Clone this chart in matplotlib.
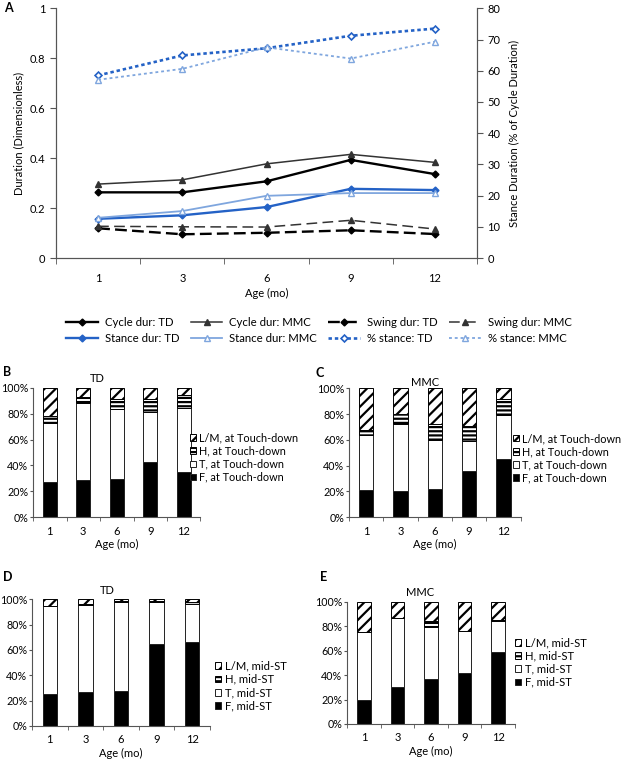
import matplotlib
matplotlib.use("Agg")
import matplotlib.pyplot as plt
import numpy as np
from matplotlib.patches import Patch
from matplotlib.ticker import FixedLocator

plt.rcParams['font.family'] = ['Lato', 'DejaVu Sans']
plt.rcParams['hatch.linewidth'] = 1.6
plt.rcParams['axes.edgecolor'] = '#555555'

ages = ['1', '3', '6', '9', '12']

# panel A: durations (dimensionless) and % stance
cycle_td = [0.263, 0.263, 0.307, 0.393, 0.336]
cycle_mmc = [0.296, 0.313, 0.377, 0.415, 0.383]
swing_td = [0.119, 0.095, 0.101, 0.111, 0.096]
swing_mmc = [0.127, 0.125, 0.124, 0.151, 0.116]
stance_td = [0.157, 0.171, 0.204, 0.277, 0.272]
stance_mmc = [0.161, 0.188, 0.249, 0.260, 0.260]
pct_stance_td = [58.5, 64.9, 67.2, 71.2, 73.5]
pct_stance_mmc = [57.1, 60.6, 67.5, 63.9, 69.3]

# panels B-E: foot contact share (%), F / T / H / L/M
td_touch_F = [27, 29, 29.5, 43, 35]
td_touch_T = [46, 59, 54, 38, 49]
td_touch_H = [5, 5, 8, 10.5, 10]
td_touch_LM = [22, 7, 8.5, 8.5, 6]

mmc_touch_F = [21.5, 20, 22, 36, 45]
mmc_touch_T = [42.5, 52.5, 38, 23.5, 34]
mmc_touch_H = [3.5, 7.5, 12, 11.5, 12.5]
mmc_touch_LM = [32.5, 20, 28, 29, 8.5]

td_mid_F = [25, 26.5, 27.5, 65, 66]
td_mid_T = [69.5, 69, 70, 32.5, 30]
td_mid_H = [0.5, 0.5, 1, 1, 1.5]
td_mid_LM = [5, 4, 1.5, 1.5, 2.5]

mmc_mid_F = [20, 30, 37, 42, 58.5]
mmc_mid_T = [55, 56.5, 42, 34, 26]
mmc_mid_H = [0, 0, 5.5, 0, 0.5]
mmc_mid_LM = [25, 13.5, 15.5, 24, 15]

W, H = 624, 762
fig = plt.figure(figsize=(W / 100, H / 100), dpi=100)


def box(l, t, r, b):
    return [l / W, 1 - b / H, (r - l) / W, (b - t) / H]


FS = 7.5
BLUE = '#2462c6'
LBLUE = '#7fa6de'
x = np.arange(len(ages))

# ---------- panel A ----------
ax = fig.add_axes(box(56, 8.3, 477, 258))
ax.plot(x, cycle_td, color='black', lw=1.7, marker='D', ms=3.5, label='Cycle dur: TD')
ax.plot(x, cycle_mmc, color='#333333', lw=1.1, marker='^', ms=4.5, label='Cycle dur: MMC')
ax.plot(x, swing_td, color='black', lw=1.7, ls=(0, (5, 2.2)), marker='D', ms=3.5,
        label='Swing dur: TD')
ax.plot(x, swing_mmc, color='#333333', lw=1.1, ls=(0, (7, 3.5)), marker='^', ms=4.5,
        label='Swing dur: MMC')
ax.plot(x, stance_td, color=BLUE, lw=1.7, marker='D', ms=3.5, mfc=BLUE,
        label='Stance dur: TD')
ax.plot(x, stance_mmc, color=LBLUE, lw=1.3, marker='^', ms=4.5, mfc='white',
        label='Stance dur: MMC')
ax.set_ylim(0, 1)
ax.set_yticks([0, 0.2, 0.4, 0.6, 0.8, 1.0])
ax.set_yticklabels(['0', '0.2', '0.4', '0.6', '0.8', '1'])
ax.set_xlim(-0.5, 4.5)
ax.set_xticks(x)
ax.set_xticklabels(ages)
ax.xaxis.set_minor_locator(FixedLocator(np.arange(-0.5, 5, 1)))
ax.tick_params(axis='x', which='major', length=0, labelsize=FS + 0.5, pad=11)
ax.tick_params(axis='x', which='minor', length=4, color='#555555')
ax.tick_params(axis='y', length=4, labelsize=FS + 0.5, color='#555555')
ax.spines['top'].set_visible(False)
ax.set_ylabel('Duration (Dimensionless)', fontsize=FS + 0.5, labelpad=4)
ax.set_xlabel('Age (mo)', fontsize=FS + 0.5, labelpad=3)

ax2 = ax.twinx()
ax2.plot(x, pct_stance_td, color=BLUE, lw=1.9, ls=(0, (1.3, 1.1)), marker='D', ms=3.5,
         mfc='white', mew=1.2, label='% stance: TD')
ax2.plot(x, pct_stance_mmc, color=LBLUE, lw=1.3, ls=(0, (1.6, 1.6)), marker='^', ms=4,
         mfc='white', mew=1.0, label='% stance: MMC')
ax2.set_ylim(0, 80)
ax2.set_yticks(np.arange(0, 81, 10))
ax2.tick_params(axis='y', length=4, labelsize=FS + 0.5, color='#555555')
ax2.spines['top'].set_visible(False)
ax2.set_ylabel('Stance Duration (% of Cycle Duration)', fontsize=FS + 0.5, labelpad=6)

h1, l1 = ax.get_legend_handles_labels()
h2, l2 = ax2.get_legend_handles_labels()
hd = dict(zip(l1 + l2, h1 + h2))
order = ['Cycle dur: TD', 'Stance dur: TD', 'Cycle dur: MMC', 'Stance dur: MMC',
         'Swing dur: TD', '% stance: TD', 'Swing dur: MMC', '% stance: MMC']
fig.legend([hd[k] for k in order], order, ncol=4, loc='upper left',
           bbox_to_anchor=(66 / W, 1 - 317 / H), frameon=False, fontsize=FS + 0.7,
           handlelength=2.8, handletextpad=0.6, columnspacing=1.0, labelspacing=0.45,
           borderpad=0, borderaxespad=0)
fig.text(4 / W, 1 - 8 / H, 'A', fontsize=9, fontweight='bold', va='center')


# ---------- panels B-E ----------
def stacked(rect, F, T, Hh, LM, title, letter, suffix, leg_xy, letter_xy, title_xy,
            width=0.42, leg_fs=FS + 0.6):
    a = fig.add_axes(box(*rect))
    F = np.array(F, float)
    T = np.array(T, float)
    Hh = np.array(Hh, float)
    LM = np.array(LM, float)
    a.bar(x, F, width, color='black', edgecolor='#222222', lw=0.7)
    a.bar(x, T, width, bottom=F, color='white', edgecolor='#222222', lw=0.7)
    a.bar(x, Hh, width, bottom=F + T, color='white', edgecolor='black', lw=0.7,
          hatch='----')
    a.bar(x, LM, width, bottom=F + T + Hh, color='white', edgecolor='black', lw=0.7,
          hatch='///')
    a.set_ylim(0, 100)
    a.set_yticks(np.arange(0, 101, 20))
    a.set_yticklabels(['%d%%' % v for v in range(0, 101, 20)])
    a.set_xlim(-0.5, 4.5)
    a.set_xticks(x)
    a.set_xticklabels(ages)
    a.xaxis.set_minor_locator(FixedLocator(np.arange(-0.5, 5, 1)))
    a.tick_params(axis='x', which='major', length=0, labelsize=FS + 0.5, pad=6)
    a.tick_params(axis='x', which='minor', length=3, color='#555555')
    a.tick_params(axis='y', length=2.5, labelsize=FS + 0.2, pad=1, color='#555555')
    for s in ('top', 'right'):
        a.spines[s].set_visible(False)
    a.set_xlabel('Age (mo)', fontsize=FS + 0.5, labelpad=2)
    handles = [
        Patch(facecolor='white', edgecolor='black', hatch='///', lw=0.7),
        Patch(facecolor='white', edgecolor='black', hatch='----', lw=0.7),
        Patch(facecolor='white', edgecolor='#222222', lw=0.7),
        Patch(facecolor='black', edgecolor='#222222', lw=0.7),
    ]
    labels = ['L/M, ' + suffix, 'H, ' + suffix, 'T, ' + suffix, 'F, ' + suffix]
    fig.legend(handles, labels, loc='center left',
               bbox_to_anchor=(leg_xy[0] / W, 1 - leg_xy[1] / H), frameon=False,
               fontsize=leg_fs, handlelength=0.55, handleheight=0.55,
               handletextpad=0.3, labelspacing=0.2, borderpad=0, borderaxespad=0)
    fig.text(letter_xy[0] / W, 1 - letter_xy[1] / H, letter, fontsize=9,
             fontweight='bold', va='center')
    fig.text(title_xy[0] / W, 1 - title_xy[1] / H, title, fontsize=FS + 0.5,
             ha='center', va='center')
    return a


stacked((33, 387.7, 200.5, 517.3), td_touch_F, td_touch_T, td_touch_H, td_touch_LM,
        'TD', 'B', 'at Touch-down', (190, 457.6), (3, 372), (97, 379), leg_fs=7.8)
stacked((349, 388.3, 520.5, 517.3), mmc_touch_F, mmc_touch_T, mmc_touch_H, mmc_touch_LM,
        'MMC', 'C', 'at Touch-down', (513, 458.3), (316, 373), (425, 382), leg_fs=7.8)
stacked((32, 599.3, 210, 726), td_mid_F, td_mid_T, td_mid_H, td_mid_LM,
        'TD', 'D', 'mid-ST', (215, 686), (3, 577), (107, 590), width=0.40)
stacked((347.3, 601.7, 514.8, 724), mmc_mid_F, mmc_mid_T, mmc_mid_H, mmc_mid_LM,
        'MMC', 'E', 'mid-ST', (515, 662.5), (320, 577), (420, 593), width=0.41)

fig.savefig('out.png', dpi=100)
